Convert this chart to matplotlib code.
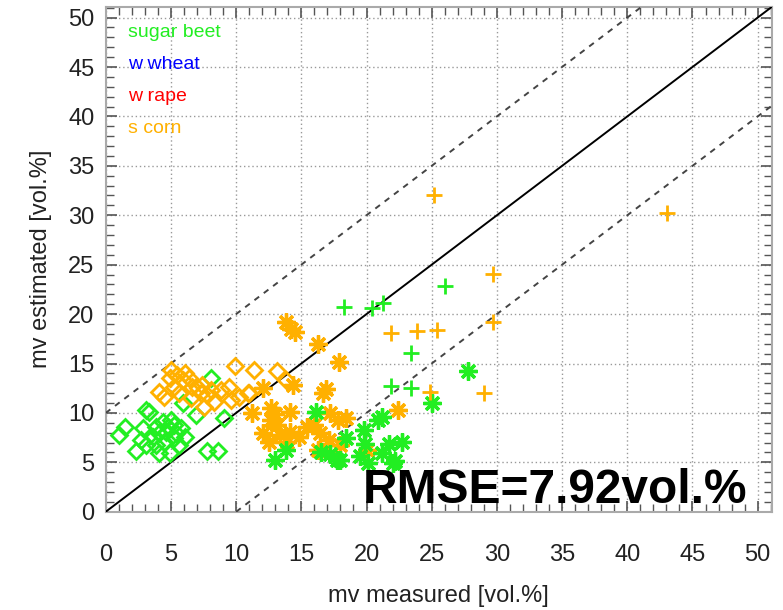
import matplotlib
matplotlib.use("Agg")
import matplotlib.pyplot as plt
from matplotlib.ticker import MultipleLocator

# sugar beet (green) and s corn (orange), three marker types each
gd_x = [3.1, 3.3, 1.45, 1.05, 2.85, 2.7, 2.35, 3.1, 3.85, 4.4, 5.0, 5.25, 4.1, 3.6, 4.6, 4.5,
        3.85, 4.1, 4.9, 5.25, 5.8, 6.05, 5.65, 5.9, 6.9, 9.1, 7.8, 8.6, 8.1, 4.8, 5.4]
gd_y = [10.3, 10.1, 8.6, 7.8, 8.45, 7.3, 6.1, 6.75, 8.6, 9.1, 9.3, 8.8, 7.95, 7.6, 8.1, 7.1,
        6.75, 5.9, 5.9, 7.45, 8.45, 7.6, 6.75, 11.0, 9.8, 9.5, 6.1, 6.1, 13.5, 8.6, 8.0]

od_x = [5.0, 4.9, 5.5, 5.9, 4.1, 4.5, 5.25, 5.65, 6.4, 6.65, 7.05, 7.4, 7.3, 7.8, 8.05, 6.55,
        8.85, 9.45, 9.95, 11.4, 10.2, 9.6, 11.0, 8.3, 13.15, 13.8, 7.5, 10.9, 6.1]
od_y = [14.3, 13.5, 13.8, 13.3, 12.15, 11.65, 12.65, 12.0, 13.5, 12.65, 12.5, 12.8, 12.0, 11.8, 12.3, 11.5,
        12.3, 12.65, 14.7, 14.3, 11.65, 11.3, 12.0, 11.1, 14.2, 13.3, 10.6, 12.0, 14.0]

oa_x = [13.8, 14.2, 14.5, 16.3, 17.9, 14.4, 12.1, 16.65, 16.9, 11.25, 12.65, 14.15, 12.65, 13.15, 12.5, 14.15,
        14.8, 15.95, 16.45, 17.2, 17.1, 17.85, 18.4, 16.3, 17.95, 13.4, 12.1, 13.9, 20.0, 22.4, 15.4, 13.0]
oa_y = [19.2, 18.5, 18.2, 17.0, 15.2, 12.8, 12.5, 12.0, 12.4, 10.0, 10.5, 10.1, 9.3, 8.8, 7.1, 8.1,
        7.6, 8.8, 7.95, 10.0, 7.3, 9.3, 9.5, 6.3, 6.75, 7.8, 7.95, 7.1, 6.3, 10.3, 8.6, 9.9]

ga_x = [16.1, 13.8, 13.0, 17.2, 18.0, 18.4, 19.8, 19.5, 20.9, 21.2, 21.2, 21.7, 22.2, 22.7,
        20.15, 19.9, 25.0, 27.8, 16.5, 17.7, 22.05]
ga_y = [10.1, 6.3, 5.25, 5.8, 5.25, 7.45, 8.3, 5.6, 9.3, 9.6, 5.9, 6.9, 5.1, 7.1,
        4.9, 6.9, 11.0, 14.2, 6.0, 5.2, 4.9]

gp_x = [26.0, 21.3, 20.4, 23.45, 21.9, 23.45, 18.25]
gp_y = [22.8, 21.1, 20.6, 16.1, 12.7, 12.5, 20.7]

op_x = [25.2, 29.7, 21.9, 23.9, 25.4, 29.7, 24.85, 29.0, 43.05]
op_y = [32.0, 24.1, 18.05, 18.3, 18.4, 19.2, 12.15, 12.0, 30.2]

crops = ["sugar beet", "w wheat", "w rape", "s corn"]
crop_colors = ["#22ee22", "#0000ff", "#ff0000", "#ffb000"]

GREEN = "#22ee22"
ORANGE = "#ffb000"
FONT = ["Liberation Sans", "DejaVu Sans"]


def main():

    fig = plt.figure(figsize=(7.83, 6.10), dpi=100)
    ax = fig.add_axes([0.135, 0.161, 0.851, 0.828])

    lim = 51.1
    ax.plot([0, lim], [0, lim], color="black", lw=1.4, zorder=3)
    ax.plot([0, lim], [10, lim + 10], color="#444444", lw=1.4, ls=(0, (3, 3)), zorder=3)
    ax.plot([10, lim + 10], [0, lim], color="#444444", lw=1.4, ls=(0, (3, 3)), zorder=3)

    ax.plot(gd_x, gd_y, ls="none", marker="D", ms=8.5, mfc="none", mec=GREEN, mew=2, zorder=4)
    ax.plot(od_x, od_y, ls="none", marker="D", ms=8.5, mfc="none", mec=ORANGE, mew=2, zorder=4)
    ax.plot(oa_x, oa_y, ls="none", marker=(8, 2, 0), ms=13, color=ORANGE, mew=2.4, zorder=4)
    ax.plot(ga_x, ga_y, ls="none", marker=(8, 2, 0), ms=13, color=GREEN, mew=2.4, zorder=4)
    ax.plot(gp_x, gp_y, ls="none", marker="+", ms=11, color=GREEN, mew=2, zorder=4)
    ax.plot(op_x, op_y, ls="none", marker="+", ms=11, color=ORANGE, mew=2, zorder=4)

    ax.set_xlim(0, lim)
    ax.set_ylim(0, lim)
    ax.xaxis.set_major_locator(MultipleLocator(5))
    ax.yaxis.set_major_locator(MultipleLocator(5))
    ax.xaxis.set_minor_locator(MultipleLocator(1))
    ax.yaxis.set_minor_locator(MultipleLocator(1))
    ax.tick_params(which="both", direction="in", top=True, right=True, color="#555555")
    ax.tick_params(which="major", length=8, width=1.2)
    ax.tick_params(which="minor", length=6, width=1.0)
    ax.tick_params(axis="x", pad=23)
    ax.tick_params(axis="y", pad=8)
    for lab in ax.get_xticklabels() + ax.get_yticklabels():
        lab.set_family(FONT)
        lab.set_fontsize(17)
        lab.set_color("#222222")
    ax.grid(True, which="major", color="#999999", ls=(0, (1, 2)), lw=1.0)
    for sp in ax.spines.values():
        sp.set_color("#aaaaaa")
        sp.set_linewidth(1.5)

    ax.set_xlabel("mv measured [vol.%]", family=FONT, fontsize=17, color="#222222", labelpad=14)
    ax.set_ylabel("mv estimated [vol.%]", family=FONT, fontsize=17, color="#222222", labelpad=12)

    for i, name in enumerate(crops):
        ax.text(1.7, 48.5 - 3.25 * i, name, color=crop_colors[i], fontsize=14,
                family=FONT, ha="left", va="center")

    ax.text(49.2, 2.2, "RMSE=7.92vol.%", family=FONT, fontweight="bold", fontsize=34.5,
            ha="right", va="center", color="black", zorder=6)

    fig.savefig("out.png", dpi=100)


if __name__ == "__main__":

    main()
